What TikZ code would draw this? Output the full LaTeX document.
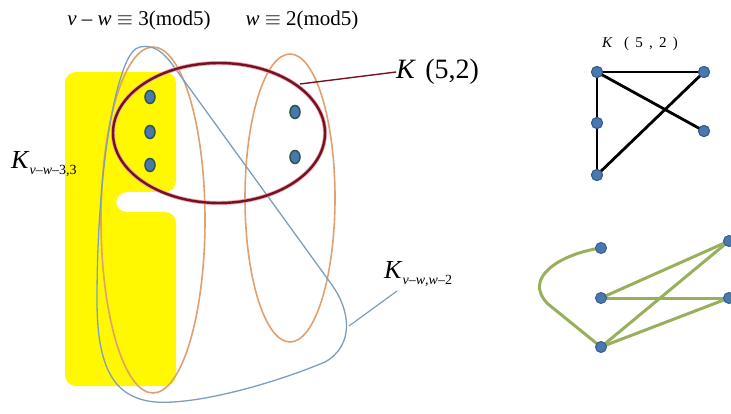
\documentclass[tikz,border=0pt]{standalone}
\usepackage{fontspec}
\setmainfont{Liberation Serif}
\usetikzlibrary{shapes.geometric}
\definecolor{ylw}{RGB}{255,248,0}
\definecolor{orng}{RGB}{224,160,112}
\definecolor{maroonc}{RGB}{115,18,35}
\definecolor{pinkhalo}{RGB}{240,160,170}
\definecolor{steel}{RGB}{125,158,188}
\definecolor{dotblue}{RGB}{74,120,172}
\definecolor{dotedge}{RGB}{40,88,72}
\definecolor{dotedgeb}{RGB}{52,90,150}
\definecolor{grn}{RGB}{152,176,92}
\begin{document}
\begin{tikzpicture}[x=1pt,y=-1pt,
  dot/.style={ellipse, fill=dotblue, draw=dotedge, line width=1.5pt, inner sep=0pt, minimum width=10pt, minimum height=13pt},
  gdot/.style={circle, fill=dotblue, draw=dotedgeb, line width=1pt, inner sep=0pt, minimum size=11pt},
  orngline/.style={draw=orng, line width=1.6pt},
  blk/.style={draw=black, line width=2.8pt},
  grnline/.style={draw=grn, line width=3pt, line cap=round},
  lbl/.style={inner sep=0pt, font=\fontsize{21}{21}\selectfont},
  bigk/.style={anchor=west, inner sep=0pt, font=\fontsize{26}{26}\selectfont}
]
\useasboundingbox (0,0) rectangle (731,414);
\fill[white] (0,0) rectangle (731,414);

% yellow shape
\fill[ylw, rounded corners=11pt] (65,72) -- (176,72) -- (176,192) -- (116,192) -- (116,212) -- (176,212) -- (176,386) -- (65,386) -- cycle;

% orange ellipses
\draw[orngline] (153,220) ellipse [x radius=52, y radius=173];
\draw[orngline] (290,198) ellipse [x radius=45, y radius=144];

% steel-blue loop
\draw[steel, line width=1.3pt] (140,47) .. controls (153,44) and (163,52) .. (172,64)
  -- (332,285) .. controls (350,310) and (355,345) .. (325,362)
  .. controls (270,385) and (195,405) .. (155,402)
  .. controls (115,398) and (97,370) .. (97,300)
  .. controls (97,200) and (108,110) .. (124,68)
  .. controls (129,55) and (134,48) .. (140,47) -- cycle;
\coordinate (loopR) at (349,326);
\node[bigk] (kvw) at (384,274) {\textit{K}\raisebox{-6pt}{\fontsize{14}{14}\selectfont\textit{v}–\textit{w},\textit{w}–2}};
\coordinate (kvwend) at (397,291);
\draw[steel, line width=1.2pt] (loopR) -- (kvwend);

% maroon ellipse
\draw[pinkhalo, line width=4pt] (219,133) ellipse [x radius=106, y radius=70];
\draw[maroonc, line width=2.4pt] (219,133) ellipse [x radius=106, y radius=70];
\coordinate (ellR) at (300,84);
\node[bigk, font=\fontsize{28}{28}\selectfont] (k52) at (396,72) {\textit{K}\,\,(5,2)};
\draw[maroonc, line width=1.4pt] (ellR) -- (k52.west);

% dots in the left panel
\node[dot] (a1) at (150,97) {};
\node[dot] (a2) at (150,132) {};
\node[dot] (a3) at (150,165) {};
\node[dot] (b1) at (295,112) {};
\node[dot] (b2) at (295,157) {};

% labels
\node[lbl] (top1) at (139,20) {\textit{v} – \textit{w} $\equiv$ 3(mod5)};
\node[lbl] (top2) at (302,20) {\textit{w} $\equiv$ 2(mod5)};
\node[bigk] (k33) at (11,164) {\textit{K}\raisebox{-6pt}{\fontsize{14}{14}\selectfont\textit{v}–\textit{w}–3,3}};

% right top graph K(5,2)
\node[inner sep=0pt, font=\fontsize{15}{15}\selectfont] (title) at (640,44) {\textit{K}~~~(~\,5~\,,~\,2~\,)};
\node[gdot] (A) at (597,72) {};
\node[gdot] (B) at (704,72) {};
\node[gdot] (C) at (597,123) {};
\node[gdot] (D) at (704,131) {};
\node[gdot] (E) at (597,175) {};
\draw[blk] (A.center) -- (B.center);
\draw[blk] (A.center) -- (C.center);
\draw[blk] (C.center) -- (E.center);
\draw[blk] (A.center) -- (D.center);
\draw[blk] (E.center) -- (B.center);
\foreach \n in {A,B,C,D,E} \node[gdot] at (\n) {};

% right bottom graph
\coordinate (F) at (601,248);
\coordinate (G) at (601,298);
\coordinate (H) at (601,347);
\coordinate (I) at (729,241);
\coordinate (J) at (729,298);
\draw[grnline] (F) .. controls (560,254) and (522,278) .. (548,304) -- (H);
\draw[grnline] (G) -- (I);
\draw[grnline] (G) -- (J);
\draw[grnline] (H) -- (I);
\draw[grnline] (H) -- (J);
\node[gdot] (Fn) at (F) {};
\node[gdot] (Gn) at (G) {};
\node[gdot] (Hn) at (H) {};
\node[gdot] (In) at (I) {};
\node[gdot] (Jn) at (J) {};
\end{tikzpicture}
\end{document}
